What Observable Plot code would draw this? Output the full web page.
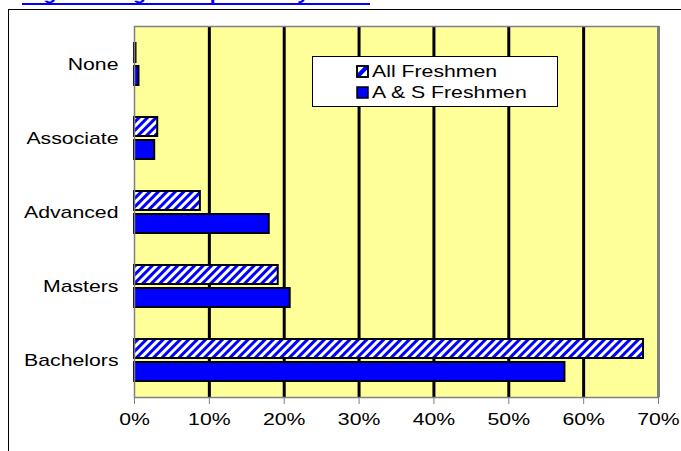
<!DOCTYPE html>
<html>
<head>
<meta charset="utf-8">
<script src="https://cdn.jsdelivr.net/npm/d3@7"></script>
<script src="https://cdn.jsdelivr.net/npm/@observablehq/plot@0.6"></script>
<style>
  html, body { margin: 0; padding: 0; background: #fff; }
  #wrap { position: relative; width: 681px; height: 451px; overflow: hidden; font-family: "Liberation Sans", Arial, sans-serif; }
  #link { position: absolute; left: 22px; top: -14px; width: 348px; height: 17px; line-height: 17px; font-size: 17px; font-weight: bold; color: #0000ff; border-bottom: 2px solid #0000ff; white-space: nowrap; overflow: hidden; }
  #link span { display: inline-block; transform: scaleX(1.25); transform-origin: left center; }
  #box { position: absolute; left: 8px; top: 9px; width: 720px; height: 520px; border-top: 1px solid #000; border-left: 1px solid #000; }
  #chart { position: absolute; left: 0; top: 0; }
  #legend { position: absolute; left: 312px; top: 56px; width: 244px; height: 49px; background: #fff; border: 1px solid #000; }
  .row { position: absolute; left: 43px; height: 17px; line-height: 17px; font-size: 17px; color: #000; white-space: nowrap; }
  .row svg { position: absolute; left: 0; top: 2px; }
  .row span { position: absolute; left: 16px; top: 0; display: inline-block; transform: scaleX(1.25); transform-origin: left center; }
</style>
</head>
<body>
<div id="wrap">
  <div id="link"><span>Highest Degree Expected by Freshmen</span></div>
  <div id="box"></div>
  <div id="chart"></div>
  <div id="legend"></div>
</div>
<script>
const categories = ["None", "Associate", "Advanced", "Masters", "Bachelors"];
const series = ["All Freshmen", "A & S Freshmen"];
const allFreshmen = [0.002, 0.031, 0.088, 0.192, 0.680];
const asFreshmen = [0.006, 0.027, 0.180, 0.208, 0.575];
const xTicks = [0, 0.1, 0.2, 0.3, 0.4, 0.5, 0.6, 0.7];

const data = categories.flatMap((c, i) => [
  {category: c, series: series[0], value: allFreshmen[i]},
  {category: c, series: series[1], value: asFreshmen[i]}
]);

const chart = Plot.plot({
  width: 681,
  height: 451,
  marginLeft: 134,
  marginRight: 23,
  marginTop: 26,
  marginBottom: 54,
  style: {background: "transparent", fontFamily: "'Liberation Sans', Arial, sans-serif", fontSize: "17px", color: "#000", overflow: "visible"},
  x: {domain: [0, 0.7], label: null, axis: null},
  y: {domain: categories, padding: 0, label: null, axis: null},
  marks: [
    Plot.frame({fill: "#FFFF99"}),
    Plot.ruleX(xTicks.slice(1, -1), {stroke: "#000", strokeWidth: 3}),
    Plot.barX(data.filter(d => d.series === series[0]), {x: "value", y: "category", fill: "url(#hatch)", stroke: "#000", strokeWidth: 2, insetTop: 16, insetBottom: 39}),
    Plot.barX(data.filter(d => d.series === series[1]), {x: "value", y: "category", fill: "#0000FF", stroke: "#000", strokeWidth: 2, insetTop: 39, insetBottom: 16}),
    Plot.frame({stroke: "#808080", strokeWidth: 1.5}),
    Plot.ruleX([0.7], {stroke: "#808080", strokeWidth: 3}),
    Plot.axisX({ticks: xTicks, tickFormat: d3.format(".0%"), tickSize: 7, tickPadding: 8, stroke: "#808080", fill: "#000", label: null}),
    Plot.axisY({tickSize: 0, tickPadding: 16, fill: "#000", label: null})
  ]
});

// hatch pattern
const defs = document.createElementNS("http://www.w3.org/2000/svg", "defs");
defs.innerHTML = '<pattern id="hatch" patternUnits="userSpaceOnUse" width="6" height="6" patternTransform="rotate(45)"><rect width="6" height="6" fill="#fff"/><rect width="3" height="6" fill="#0000FF"/></pattern>';
chart.prepend(defs);

// horizontal stretch of text, as in the reference
chart.querySelectorAll("text").forEach(t => {
  const x = parseFloat(t.getAttribute("x")) || 0;
  const tr = t.getAttribute("transform") || "";
  t.setAttribute("transform", `${tr} translate(${x},0) scale(1.25,1) translate(${-x},0)`);
});

document.getElementById("chart").appendChild(chart);

// legend
const legend = document.getElementById("legend");
const swatches = [
  '<svg width="13" height="13"><rect x="1" y="1" width="11" height="11" fill="#fff" stroke="#000" stroke-width="1.5"/><polygon points="1.8,11.2 1.8,8 8,1.8 11.2,1.8 11.2,4.5 4.5,11.2" fill="#0000FF"/><rect x="1" y="1" width="11" height="11" fill="none" stroke="#000" stroke-width="1.5"/></svg>',
  '<svg width="13" height="13"><rect x="1" y="1" width="11" height="11" fill="#0000FF" stroke="#000" stroke-width="1.5"/></svg>'
];
series.forEach((s, i) => {
  const row = document.createElement("div");
  row.className = "row";
  row.style.top = (6 + i * 21) + "px";
  row.innerHTML = swatches[i] + "<span></span>";
  row.querySelector("span").textContent = s;
  legend.appendChild(row);
});
</script>
</body>
</html>
